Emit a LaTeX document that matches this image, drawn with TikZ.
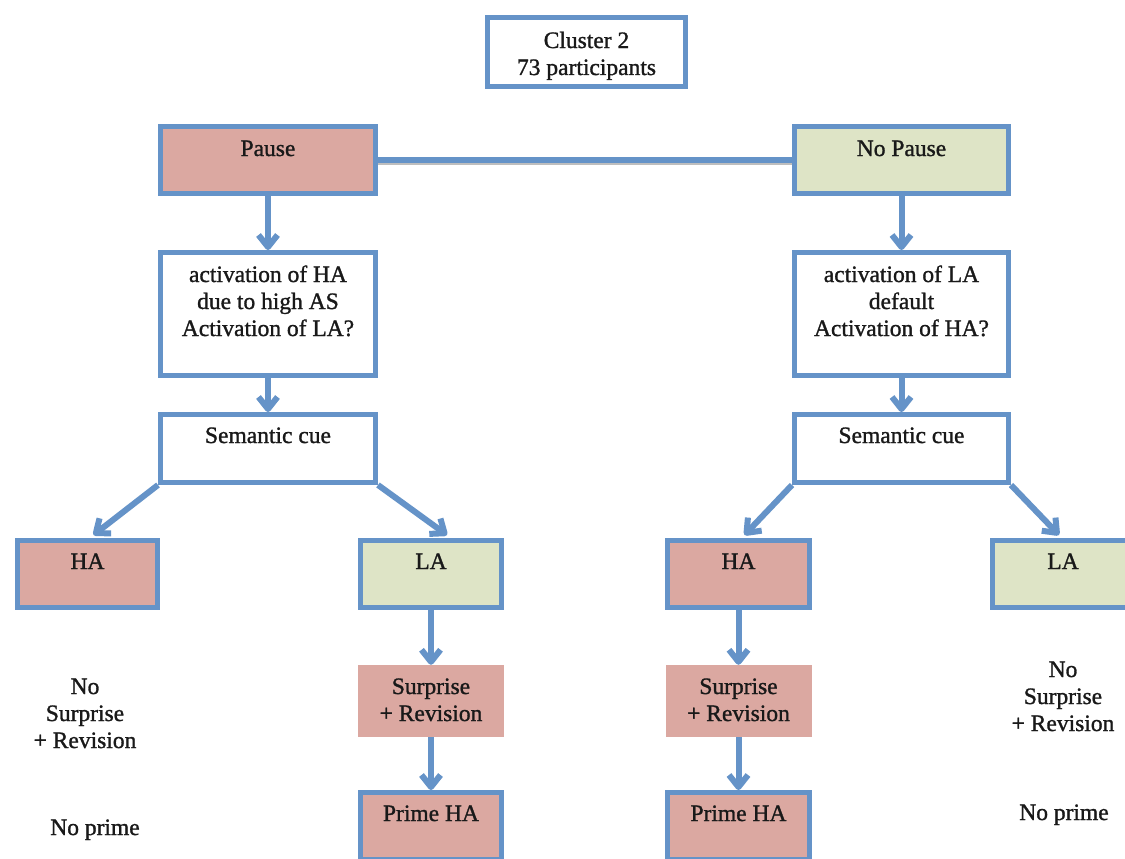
\documentclass[tikz,border=0pt]{standalone}
\usepackage{fontspec}
\setmainfont{Liberation Serif}[FakeBold=1.2]
\usetikzlibrary{arrows.meta,calc}
\definecolor{edge}{RGB}{101,147,200}
\definecolor{rose}{RGB}{219,168,161}
\definecolor{sage}{RGB}{222,228,198}
\definecolor{shadowgray}{RGB}{190,190,190}
\begin{document}
\begin{tikzpicture}[x=1pt,y=-1pt,
  box/.style={rectangle,draw=edge,line width=5pt,inner sep=0pt},
  plain/.style={rectangle,inner sep=0pt},
  txt/.style={font=\fontsize{23.5}{27}\selectfont,align=center,inner sep=0pt,anchor=base,text=black!90},
  link/.style={draw=edge,line width=6pt,line join=round},
  flow/.style={link,-{Straight Barb[length=12pt,width=19pt,line join=round]}}]
\useasboundingbox (0,0) rectangle (1125,859);
\clip (0,0) rectangle (1125,859);
\fill[white] (0,0) rectangle (1125,859);

% boxes
\node[box,fill=white,minimum width=198pt,minimum height=69pt] (cl) at (586.5,52) {};
\node[box,fill=rose,minimum width=215pt,minimum height=67pt] (pa) at (268,160) {};
\node[box,fill=sage,minimum width=214pt,minimum height=67pt] (np) at (901.5,160) {};
\node[box,fill=white,minimum width=215pt,minimum height=123pt] (aL) at (268,314) {};
\node[box,fill=white,minimum width=214pt,minimum height=123pt] (aR) at (901.5,314) {};
\node[box,fill=white,minimum width=215pt,minimum height=68pt] (sL) at (268,448.5) {};
\node[box,fill=white,minimum width=214pt,minimum height=68pt] (sR) at (901.5,448.5) {};
\node[box,fill=rose,minimum width=140pt,minimum height=67pt] (hL) at (87.5,574) {};
\node[box,fill=sage,minimum width=141pt,minimum height=67pt] (lL) at (431,574) {};
\node[box,fill=rose,minimum width=142pt,minimum height=67pt] (hR) at (738.5,574) {};
\node[box,fill=sage,minimum width=141pt,minimum height=67pt] (lR) at (1063,574) {};
\node[plain,fill=rose,minimum width=146pt,minimum height=72pt] (uL) at (431,701) {};
\node[plain,fill=rose,minimum width=146pt,minimum height=72pt] (uR) at (738.5,701) {};
\node[box,fill=rose,minimum width=141pt,minimum height=67pt] (pL) at (431,826) {};
\node[box,fill=rose,minimum width=142pt,minimum height=67pt] (pR) at (738.5,826) {};

% texts (multi-line nodes sit on the baseline of their last line)
\node[txt] (tcl) at (586.5,75) {Cluster 2\\73 participants};
\node[txt] (tpa) at (268,156) {Pause};
\node[txt] (tnp) at (901.5,156) {No Pause};
\node[txt] (taL) at (268,336) {activation of HA\\due to high AS\\Activation of LA?};
\node[txt] (taR) at (901.5,336) {activation of LA\\default\\Activation of HA?};
\node[txt] (tsL) at (268,443) {Semantic cue};
\node[txt] (tsR) at (901.5,443) {Semantic cue};
\node[txt] (thL) at (87.5,569) {HA};
\node[txt] (tlL) at (431,569) {LA};
\node[txt] (thR) at (738.5,569) {HA};
\node[txt] (tlR) at (1063,569) {LA};
\node[txt] (tuL) at (431,721) {Surprise\\+ Revision};
\node[txt] (tuR) at (738.5,721) {Surprise\\+ Revision};
\node[txt] (tpL) at (431,821) {Prime HA};
\node[txt] (tpR) at (738.5,821) {Prime HA};
\node[txt] (nsL) at (85,748) {No\\Surprise\\+ Revision};
\node[txt] (nsR) at (1063,731) {No\\Surprise\\+ Revision};
\node[txt] (npL) at (95,835) {No prime};
\node[txt] (npR) at (1064,820) {No prime};

% connectors
\draw[draw=shadowgray,line width=4pt] ([yshift=-3pt]pa.east) -- ([yshift=-3pt]np.west);
\draw[link] (pa.east) -- (np.west);
\draw[flow] (pa.south) -- (aL.north);
\draw[flow] (np.south) -- (aR.north);
\draw[flow] (aL.south) -- (sL.north);
\draw[flow] (aR.south) -- (sR.north);
\coordinate (hLt) at ($(hL.north)+(6,-3)$);
\coordinate (lLt) at ($(lL.north)+(16,-3)$);
\coordinate (hRt) at ($(hR.north)+(6,-3)$);
\coordinate (lRt) at ($(lR.north)+(-4,-3)$);
\draw[flow] (sL.south west) -- (hLt);
\draw[flow] (sL.south east) -- (lLt);
\draw[flow] (sR.south west) -- (hRt);
\draw[flow] (sR.south east) -- (lRt);
\draw[flow] (lL.south) -- (uL.north);
\draw[flow] (hR.south) -- (uR.north);
\draw[flow] (uL.south) -- (pL.north);
\draw[flow] (uR.south) -- (pR.north);
\end{tikzpicture}
\end{document}
